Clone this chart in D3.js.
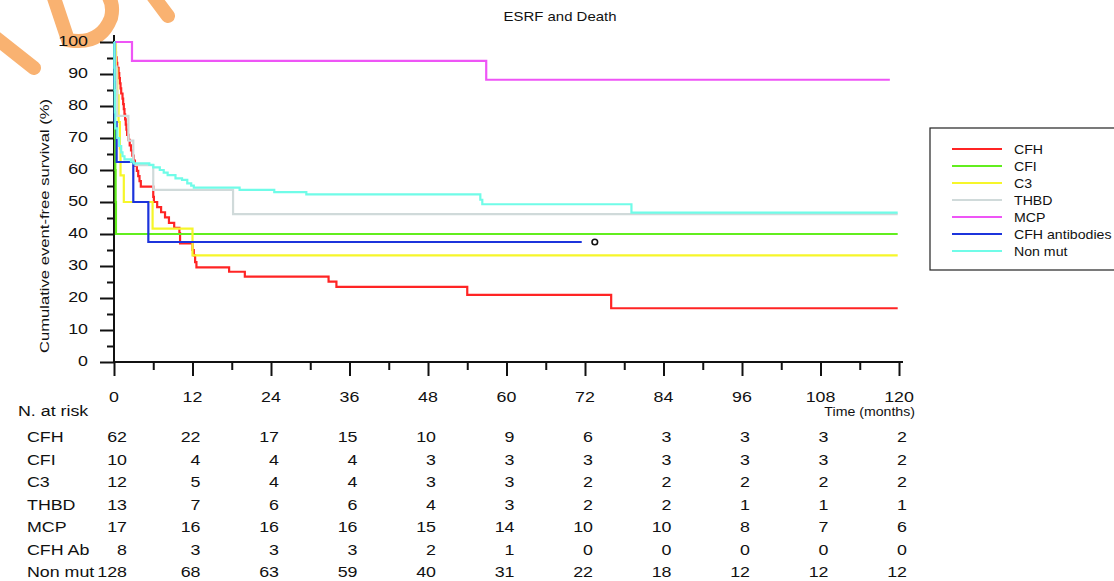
<!DOCTYPE html>
<html>
<head>
<meta charset="utf-8">
<script src="https://cdn.jsdelivr.net/npm/d3@7"></script>
<style>
  body { margin: 0; background: #fff; }
  svg { display: block; font-family: "Liberation Sans", Arial, sans-serif; }
</style>
</head>
<body>
<svg id="chart" width="1114" height="581"></svg>
<script>
// groups, in legend order
var groups = ["CFH", "CFI", "C3", "THBD", "MCP", "CFH antibodies", "Non mut"];
var riskLabels = ["CFH", "CFI", "C3", "THBD", "MCP", "CFH Ab", "Non mut"];
var colors = ["#ff2424", "#62ee1e", "#f6f62a", "#d0dada", "#ee55f6", "#1c34dc", "#70fce8"];

// survival curves: [month, % event-free after the step]
var cfh = [[0, 100], [0.1, 98.4], [0.2, 96.8], [0.3, 95.2], [0.4, 93.5], [0.5, 91.9], [0.7, 90.3], [0.8, 88.7],
  [0.9, 87.1], [1.0, 85.5], [1.1, 83.9], [1.3, 82.3], [1.4, 80.6], [1.5, 79.0], [1.6, 77.4], [1.7, 75.8],
  [1.8, 74.2], [1.9, 72.6], [2.0, 71.0], [2.2, 69.4], [2.4, 67.7], [2.6, 66.1], [2.8, 64.5], [3.0, 62.9],
  [3.2, 61.3], [3.5, 59.7], [3.7, 58.1], [3.9, 56.5], [4.1, 54.8], [6.0, 51.6], [6.1, 50.0], [6.6, 48.4],
  [7.2, 46.8], [7.8, 45.2], [8.4, 43.5], [9.2, 41.9], [10.0, 40.3], [10.1, 37.1], [12.0, 35.0], [12.2, 33.3],
  [12.4, 31.2], [12.6, 29.6], [17.6, 28.2], [20.0, 26.7], [32.8, 25.1], [34.0, 23.5], [54.0, 21.0],
  [76.0, 16.8], [119.8, 16.8]];
var cfi = [[0, 100], [0.05, 90], [0.1, 80], [0.15, 70], [0.2, 60], [0.25, 50], [0.3, 40], [119.8, 40]];
var c3 = [[0, 100], [0.3, 91.7], [0.5, 83.3], [0.7, 75.0], [0.9, 66.7], [1.0, 58.3], [1.5, 50.0],
  [5.9, 41.7], [12.0, 33.3], [119.8, 33.3]];
var thbd = [[0, 100], [0.2, 92.3], [0.4, 84.6], [0.5, 76.9], [2.2, 69.2], [2.95, 61.5], [6.0, 53.8],
  [18.2, 46.2], [119.8, 46.2]];
var mcp = [[0, 100], [2.75, 94.1], [56.9, 88.2], [118.6, 88.2]];
var cfhAb = [[0, 100], [0.05, 87.5], [0.1, 75.0], [0.4, 62.5], [2.95, 50.0], [5.25, 37.5], [71.5, 37.5]];
var nonMut = [[0, 100], [0.05, 92], [0.1, 85], [0.15, 78], [0.2, 73], [0.5, 70], [0.8, 67.5], [1.1, 65.5],
  [1.3, 64.3], [1.6, 63.3], [2.6, 62.6], [3.0, 62.1], [5.4, 61.6], [6.0, 60.8], [7.0, 60.0], [7.6, 59.2],
  [8.2, 58.4], [9.4, 57.4], [10.4, 56.9], [11.2, 55.8], [11.8, 55.1], [12.2, 54.5], [19.2, 53.8],
  [24.5, 53.1], [29.4, 52.4], [56.0, 50.7], [56.3, 49.3], [79.1, 46.7], [119.8, 46.7]];
var curves = [cfh, cfi, c3, thbd, mcp, cfhAb, nonMut];
var censorMarks = [[73.5, 37.5]];

// axis ticks
var xTicks = [0, 12, 24, 36, 48, 60, 72, 84, 96, 108, 120];
var yTicks = [0, 10, 20, 30, 40, 50, 60, 70, 80, 90, 100];

// number at risk at each x tick
var atRisk = [
  [62, 22, 17, 15, 10, 9, 6, 3, 3, 3, 2],
  [10, 4, 4, 4, 3, 3, 3, 3, 3, 3, 2],
  [12, 5, 4, 4, 3, 3, 2, 2, 2, 2, 2],
  [13, 7, 6, 6, 4, 3, 2, 2, 1, 1, 1],
  [17, 16, 16, 16, 15, 14, 10, 10, 8, 7, 6],
  [8, 3, 3, 3, 2, 1, 0, 0, 0, 0, 0],
  [128, 68, 63, 59, 40, 31, 22, 18, 12, 12, 12]
];

var svg = d3.select("#chart");
var SX = 1.15; // the source text is a bit wide

var x = d3.scaleLinear().domain([0, 120]).range([114, 899]);
var y = d3.scaleLinear().domain([0, 100]).range([362, 42]);

function txt(g, px, py, s, size, anchor) {
  return g.append("text")
    .attr("transform", "translate(" + px + "," + py + ") scale(" + SX + ",1)")
    .attr("text-anchor", anchor || "start")
    .attr("font-size", size)
    .attr("fill", "#111")
    .text(s);
}

// watermark scrap in the corner
var wm = svg.append("g").attr("fill", "none").attr("stroke", "#f9aa62")
  .attr("stroke-width", 14).attr("stroke-linecap", "round").attr("opacity", 0.9);
wm.append("path").attr("d", "M-4,38 L34,68");
wm.append("path").attr("d", "M52,-8 L68,40 Q100,46 111,18 Q115,2 104,-10");
wm.append("path").attr("d", "M150,-8 L168,16");

// title
txt(svg, 560, 21, "ESRF and Death", 13, "middle");

// y axis label (stretched along its length like the source)
svg.append("text")
  .attr("transform", "translate(49,226) rotate(-90) scale(1.28,1)")
  .attr("text-anchor", "middle")
  .attr("font-size", 13)
  .attr("fill", "#111")
  .text("Cumulative event-free survival (%)");

// axes
var ax = svg.append("g").attr("stroke", "#111");
ax.append("line").attr("x1", x(0)).attr("x2", x(0)).attr("y1", y(0)).attr("y2", y(100) - 7).attr("stroke-width", 2);
ax.append("line").attr("x1", x(0)).attr("x2", x(120) + 4).attr("y1", y(0)).attr("y2", y(0)).attr("stroke-width", 2);

var yMinor = d3.range(5, 100, 10);
var xMinor = d3.range(6, 120, 12);

function tickStyle(g) {
  g.select(".domain").remove();
  g.selectAll("line").attr("stroke", "#111").attr("stroke-width", 2);
}

svg.append("g").attr("transform", "translate(" + x(0) + ",0)")
  .call(d3.axisLeft(y).tickValues(yTicks).tickSize(14).tickSizeOuter(0).tickFormat(""))
  .call(tickStyle);
svg.append("g").attr("transform", "translate(" + x(0) + ",0)")
  .call(d3.axisLeft(y).tickValues(yMinor).tickSize(7).tickSizeOuter(0).tickFormat(""))
  .call(tickStyle);
svg.append("g").attr("transform", "translate(0," + y(0) + ")")
  .call(d3.axisBottom(x).tickValues(xTicks).tickSize(14).tickSizeOuter(0).tickFormat(""))
  .call(tickStyle);
svg.append("g").attr("transform", "translate(0," + y(0) + ")")
  .call(d3.axisBottom(x).tickValues(xMinor).tickSize(8).tickSizeOuter(0).tickFormat(""))
  .call(tickStyle);

yTicks.forEach(function(v) { txt(svg, 88, y(v) + 3.5, v, 15.5, "end"); });
xTicks.forEach(function(t) { txt(svg, x(t), 402, t, 15.5, "middle"); });
txt(svg, 915, 416, "Time (months)", 12.3, "end");

// curves
var line = d3.line().x(function(d) { return x(d[0]); }).y(function(d) { return y(d[1]); }).curve(d3.curveStepAfter);
svg.append("g").selectAll("path")
  .data(curves)
  .enter()
  .append("path")
  .attr("d", line)
  .attr("fill", "none")
  .attr("stroke", function(d, i) { return colors[i]; })
  .attr("stroke-width", 2.2);

svg.selectAll(".censor")
  .data(censorMarks)
  .enter()
  .append("circle")
  .attr("class", "censor")
  .attr("cx", function(d) { return x(d[0]); })
  .attr("cy", function(d) { return y(d[1]); })
  .attr("r", 2.8)
  .attr("fill", "#fff")
  .attr("stroke", "#111")
  .attr("stroke-width", 1.6);

// legend
var lg = svg.append("g");
lg.append("rect").attr("x", 930).attr("y", 128).attr("width", 200).attr("height", 142)
  .attr("fill", "#fff").attr("stroke", "#222").attr("stroke-width", 1.2);
groups.forEach(function(name, i) {
  var ly = 149 + i * 17;
  lg.append("line").attr("x1", 952).attr("x2", 1002).attr("y1", ly).attr("y2", ly)
    .attr("stroke", colors[i]).attr("stroke-width", 2.2);
  txt(lg, 1014, ly + 4.5, name, 12.3, "start");
});

// number at risk table
txt(svg, 18, 416, "N. at risk", 15.5, "start");
atRisk.forEach(function(row, r) {
  var ry = 442 + r * 22.5;
  txt(svg, 27, ry, riskLabels[r], 15.5, "start");
  row.forEach(function(n, c) {
    var t = xTicks[c];
    txt(svg, x(t) + (t === 0 ? 13 : 8), ry, n, 15.5, "end");
  });
});
</script>
</body>
</html>
